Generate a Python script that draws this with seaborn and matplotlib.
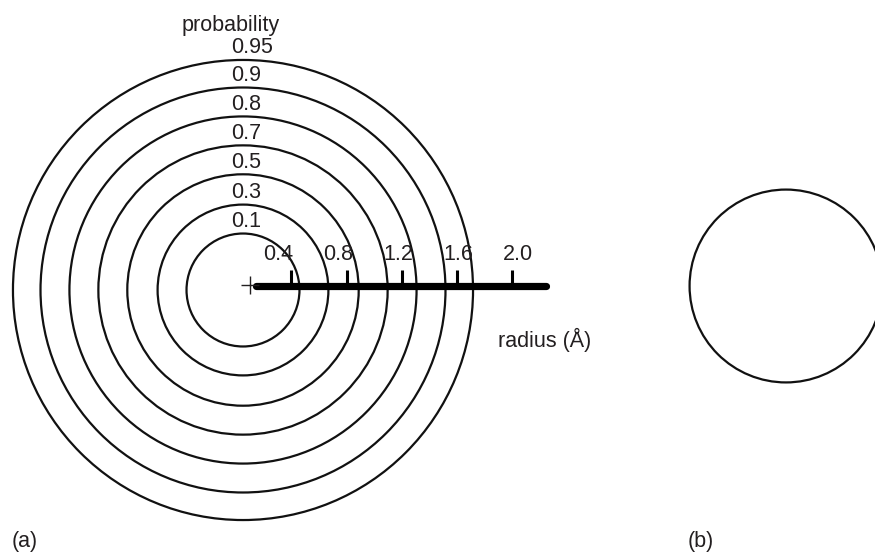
import numpy as np
import pandas as pd
import matplotlib
matplotlib.use('Agg')
import matplotlib.pyplot as plt
from matplotlib.patches import Circle
import seaborn as sns

# probability contours of the 1s orbital and their radii (angstrom)
prob_labels = ['0.1', '0.3', '0.5', '0.7', '0.8', '0.9', '0.95']
radii_ang = [0.41, 0.62, 0.84, 1.05, 1.26, 1.47, 1.67]

# radius axis
tick_values = [0.4, 0.8, 1.2, 1.6, 2.0]
tick_labels = ['0.4', '0.8', '1.2', '1.6', '2.0']
axis_end = 2.25

# panel (b): single sphere radius (angstrom)
sphere_radius = 0.70

sns.set_style('white')
plt.rcParams['font.family'] = ['Liberation Sans', 'DejaVu Sans']

px_per_ang = 137.75
center = (243, 290)
axis_x0 = 236.3
axis_y = 286
fs = 15.5
txt_col = '#231f20'

fig = plt.figure(figsize=(8.75, 5.53), dpi=100)
ax = fig.add_axes([0, 0, 1, 1])
ax.set_xlim(0, 875)
ax.set_ylim(553, 0)
ax.set_aspect('auto')
ax.axis('off')

# concentric probability circles with labels above each top
for lab, r in zip(prob_labels, radii_ang):
    rp = r * px_per_ang
    ax.add_patch(Circle(center, rp, fill=False, lw=1.6, ec='#111111'))
    ax.text(231, center[1] - rp - 12, lab, ha='left', va='center', fontsize=fs, color=txt_col)

ax.text(231, 25, 'probability', ha='center', va='center', fontsize=fs, color=txt_col)

# radius bar
bar = pd.DataFrame({'x': [256, axis_x0 + axis_end * px_per_ang], 'y': [axis_y, axis_y]})
sns.lineplot(data=bar, x='x', y='y', color='black', lw=5.2, ax=ax, legend=False)
ax.plot([center[0] + 7], [axis_y - 1], marker='+', ms=13, mew=1.0, color=txt_col)

for v, lab in zip(tick_values, tick_labels):
    tx = axis_x0 + v * px_per_ang
    ax.plot([tx, tx], [270, axis_y], color='black', lw=2.2, solid_capstyle='butt')
    ax.text(218 + 150 * v, 255, lab, ha='center', va='center', fontsize=fs, color=txt_col)

ax.text(545, 340, 'radius (Å)', ha='center', va='center', fontsize=fs, color=txt_col)

# panel (b)
ax.add_patch(Circle((786, 286), sphere_radius * px_per_ang, fill=False, lw=1.6, ec='#111111'))

ax.text(25, 541, '(a)', ha='center', va='center', fontsize=fs, color=txt_col)
ax.text(701, 541, '(b)', ha='center', va='center', fontsize=fs, color=txt_col)

fig.savefig('out.png', dpi=100)
